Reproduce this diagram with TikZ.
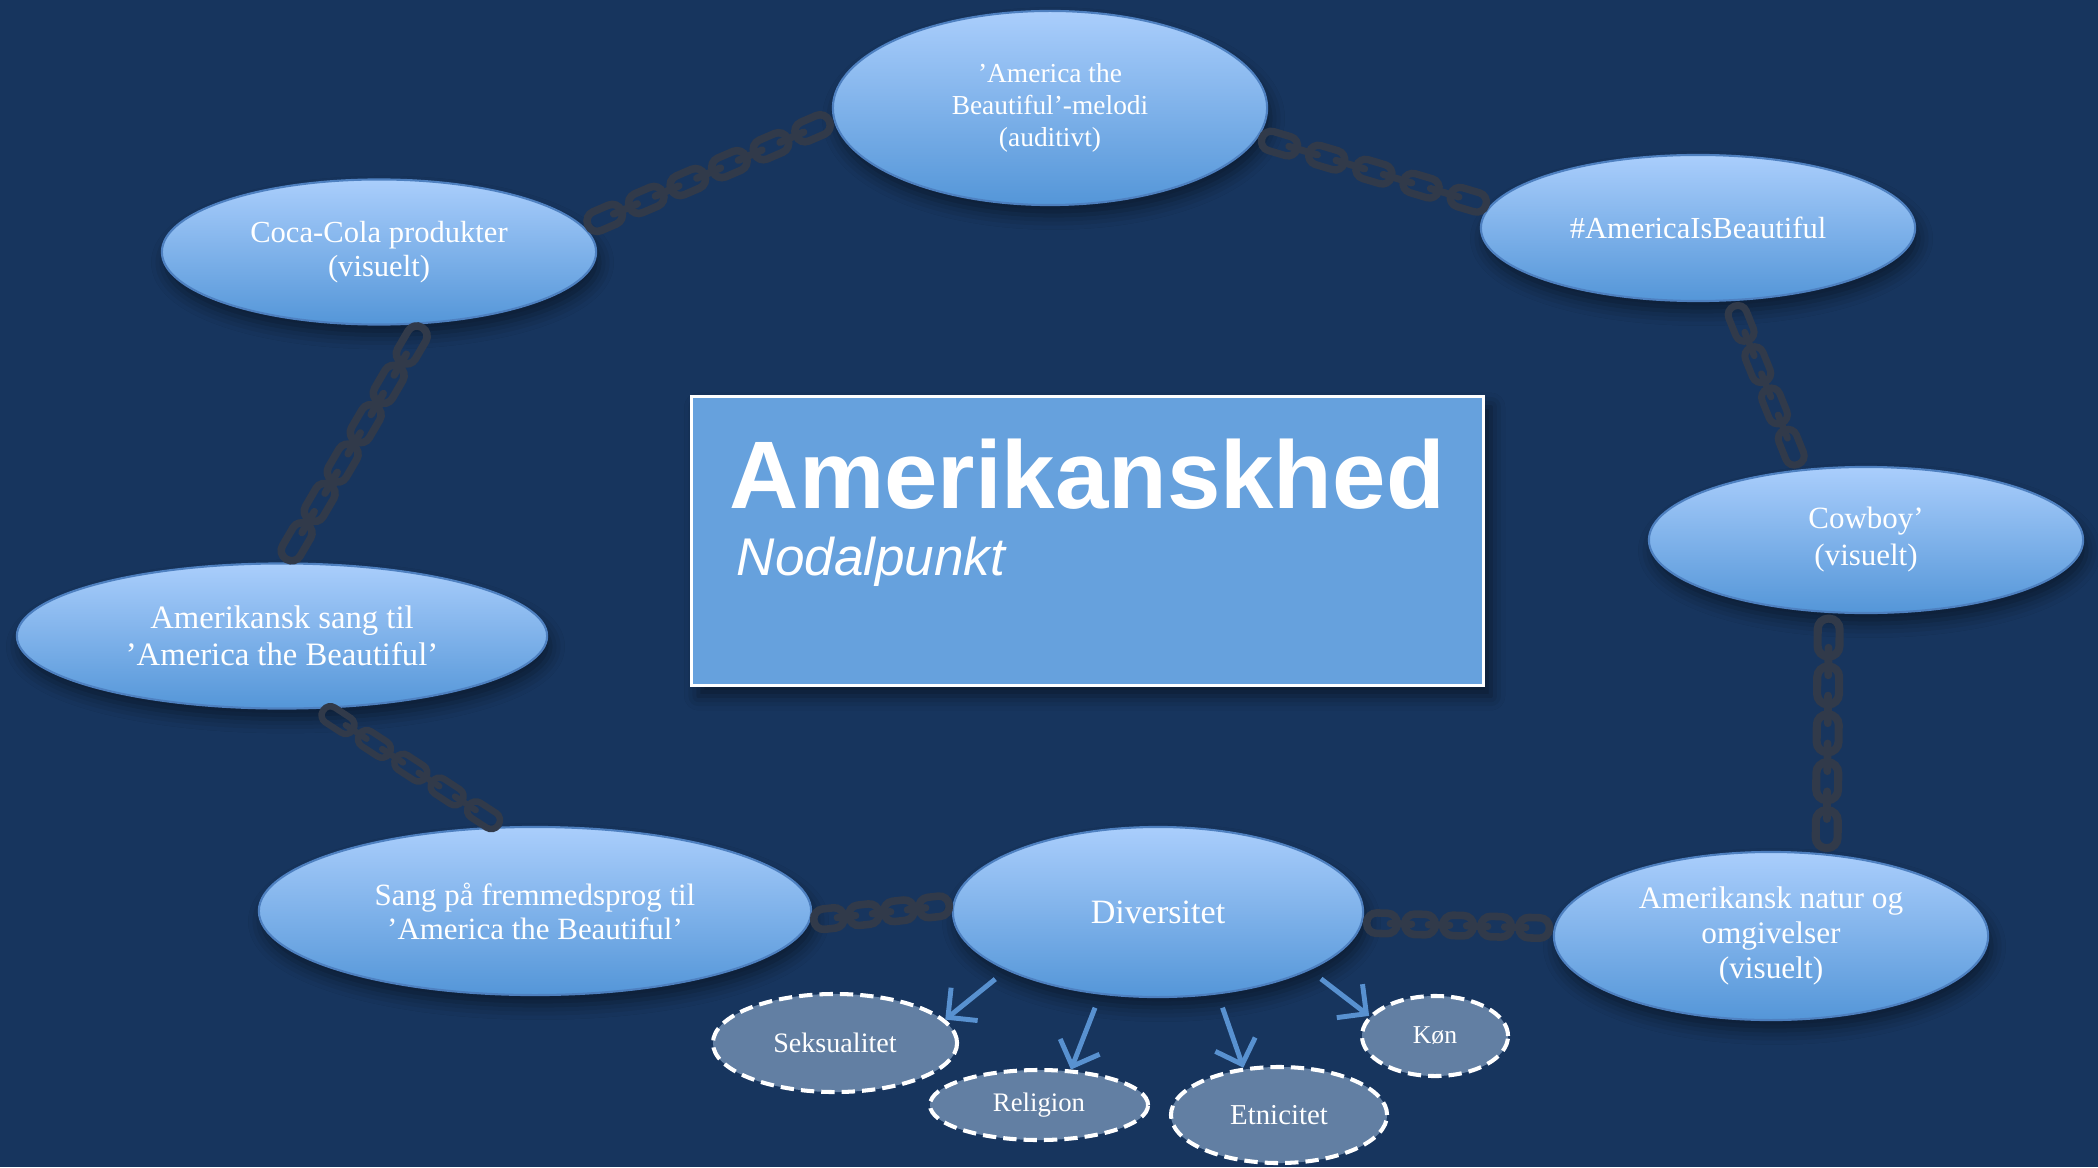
\documentclass[tikz,border=0pt]{standalone}
\usepackage{fontspec}
\setmainfont{Liberation Serif}
\setsansfont{Liberation Sans}
\usetikzlibrary{shapes.geometric,arrows.meta,decorations.markings,shadows.blur}

\definecolor{bgnavy}{RGB}{23,53,94}
\definecolor{bubbletop}{RGB}{170,206,252}
\definecolor{bubblebot}{RGB}{84,150,216}
\definecolor{bubbleedge}{RGB}{78,128,192}
\definecolor{boxblue}{RGB}{102,161,221}
\definecolor{facetfill}{RGB}{98,127,163}
\definecolor{arrowblue}{RGB}{88,145,208}
\definecolor{chaincol}{RGB}{49,58,74}

% one chain link: #1 outer width, #2 outer length (both in 0.01cm), #3 step fraction.
% Each link is a face-on ring; a bar (the edge-on link) joins it to the previous one.
\newcommand\chainlink[3]{%
  \pgfmathsetmacro\chpitch{#3*\pgfdecoratedpathlength}%
  \ifnum\pgfkeysvalueof{/pgf/decoration/mark info/sequence number}>1\relax
    \draw[chaincol, line width={0.0026*#1 cm}, line cap=round]
      ({-\chpitch pt + 0.0022*#2 cm},0pt) -- ({-0.0022*#2 cm},0pt);
  \fi
  \draw[chaincol, line width={0.0027*#1 cm}, rounded corners={0.0035*#1 cm}]
    ({-0.5*#2+0.135*#1},{-0.365*#1}) rectangle ({0.5*#2-0.135*#1},{0.365*#1});}

% #1 width, #2 length, #3 first position, #4 last position, #5 step
\tikzset{
  linkchain/.style n args={5}{
    decorate,
    decoration={markings,
      mark=between positions #3 and #4 step #5 with {\chainlink{#1}{#2}{#5}}}},
}

\begin{document}
\begin{tikzpicture}[x=0.01cm,y=-0.01cm,
  bubble/.style={ellipse, inner sep=0pt, draw=bubbleedge, line width=0.6pt,
    top color=bubbletop, bottom color=bubblebot, text=white, align=center,
    blur shadow={shadow xshift=1pt, shadow yshift=-3pt, shadow blur radius=4pt, shadow opacity=45}},
  facet/.style={ellipse, inner sep=0pt, draw=white, line width=1.15pt,
    dash pattern=on 3.8pt off 2pt, fill=facetfill, text=white, align=center},
  feed/.style={draw=arrowblue, line width=1.4pt,
    -{Straight Barb[length=6pt,width=12pt]}, shorten <=4pt},
]
\fill[bgnavy] (0,0) rectangle (2098,1167);
\useasboundingbox (0,0) rectangle (2098,1167);

% central box
\node[draw=white, line width=0.8pt, fill=boxblue, minimum width=7.92cm, minimum height=2.89cm,
  anchor=north west, inner sep=0pt,
  blur shadow={shadow xshift=2pt, shadow yshift=-3pt, shadow blur radius=4pt, shadow opacity=50}]
  (box) at (690,395) {};
\node[anchor=base west, inner sep=0pt, text=white,
  font=\sffamily\bfseries\fontsize{27.3}{30}\selectfont] (title) at (729,508) {Amerikanskhed};
\node[anchor=base west, inner sep=0pt, text=white,
  font=\sffamily\itshape\fontsize{15.1}{18}\selectfont] (sub) at (736,575) {Nodalpunkt};

% ring of elements
\node[bubble, minimum width=4.34cm, minimum height=1.94cm, font=\fontsize{7.8}{9.1}\selectfont]
  (melodi) at (1050,108) {’America the\\Beautiful’-melodi\\(auditivt)};
\node[bubble, minimum width=4.34cm, minimum height=1.45cm, font=\fontsize{8.7}{9.7}\selectfont]
  (coca) at (379,252) {Coca-Cola produkter\\(visuelt)};
\node[bubble, minimum width=4.34cm, minimum height=1.46cm, font=\fontsize{8.7}{9.7}\selectfont]
  (hash) at (1698,228) {\#AmericaIsBeautiful};
\node[bubble, minimum width=4.34cm, minimum height=1.46cm, font=\fontsize{8.8}{10.5}\selectfont]
  (cowboy) at (1866,540) {Cowboy’\\(visuelt)};
\node[bubble, minimum width=5.30cm, minimum height=1.45cm, font=\fontsize{9.3}{10.5}\selectfont]
  (sang) at (282,636) {Amerikansk sang til\\’America the Beautiful’};
\node[bubble, minimum width=5.52cm, minimum height=1.68cm, font=\fontsize{8.8}{9.7}\selectfont]
  (fremmed) at (535,911) {Sang på fremmedsprog til\\’America the Beautiful’};
\node[bubble, minimum width=4.10cm, minimum height=1.70cm, font=\fontsize{9.7}{11}\selectfont]
  (div) at (1158,912) {Diversitet};
\node[bubble, minimum width=4.34cm, minimum height=1.68cm, font=\fontsize{8.9}{10}\selectfont]
  (natur) at (1771,936) {Amerikansk natur og\\omgivelser\\(visuelt)};

% facets of diversity
\node[facet, minimum width=2.44cm, minimum height=0.98cm, font=\fontsize{8}{9}\selectfont]
  (seks) at (835,1043) {Seksualitet};
\node[facet, minimum width=2.18cm, minimum height=0.70cm, font=\fontsize{7.6}{9}\selectfont]
  (rel) at (1039,1105) {Religion};
\node[facet, minimum width=2.16cm, minimum height=0.96cm, font=\fontsize{8.2}{9}\selectfont]
  (etn) at (1279,1115) {Etnicitet};
\node[facet, minimum width=1.46cm, minimum height=0.80cm, font=\fontsize{7.3}{9}\selectfont]
  (kon) at (1435,1036) {Køn};

\draw[feed] (div.201) -- (seks.12);
\draw[feed] (div.235) -- (rel.48);
\draw[feed] (div.306) -- (etn.127);
\draw[feed] (div.339) -- (kon.163);

% chains linking the elements
\path[linkchain={28}{44}{0.083}{0.922}{0.1668}] (coca.7) -- (melodi.183);
\path[linkchain={27}{44}{0.092}{0.913}{0.204}]  (melodi.352) -- (hash.174);
\path[linkchain={26}{44}{0.132}{0.873}{0.2455}] (hash.295) -- (cowboy.133);
\path[linkchain={30}{46}{0.102}{0.903}{0.199}]  (cowboy.243) -- (natur.56);
\path[linkchain={28}{38}{0.102}{0.903}{0.1992}] (natur.178) -- (div.357);
\path[linkchain={28}{38}{0.13}{0.875}{0.2466}]  (div.178) -- (fremmed.358);
\path[linkchain={24}{42}{0.096}{0.909}{0.202}]  (sang.298) -- (fremmed.112);
\path[linkchain={28}{48}{0.0866}{0.918}{0.1653}] (sang.88) -- (coca.302);
\end{tikzpicture}
\end{document}
